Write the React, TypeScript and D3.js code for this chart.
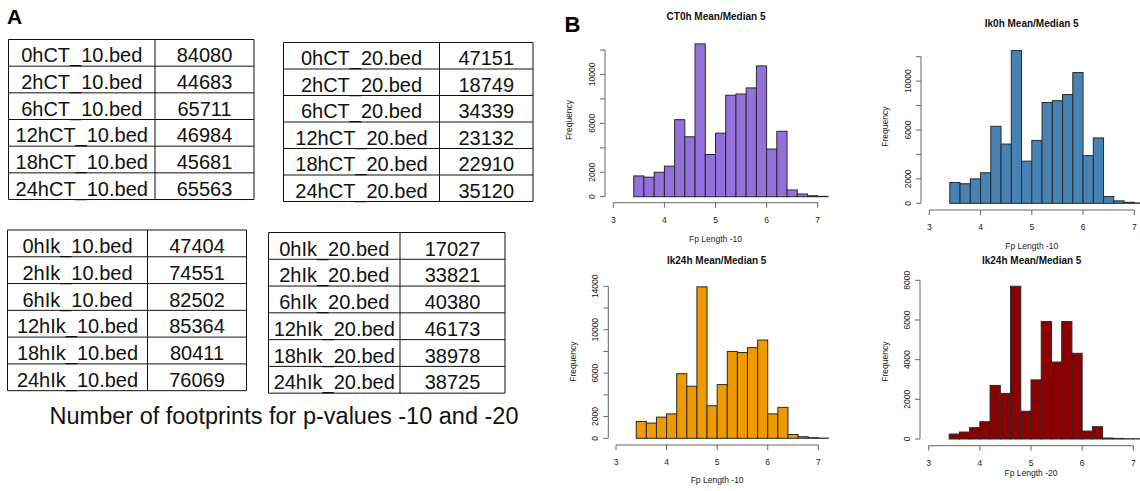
import React, { useEffect } from "react";
import * as d3 from "d3";

// ---------- Table data ----------
const ct10Names = ["0hCT_10.bed", "2hCT_10.bed", "6hCT_10.bed", "12hCT_10.bed", "18hCT_10.bed", "24hCT_10.bed"];
const ct10Counts = [84080, 44683, 65711, 46984, 45681, 65563];
const ct20Names = ["0hCT_20.bed", "2hCT_20.bed", "6hCT_20.bed", "12hCT_20.bed", "18hCT_20.bed", "24hCT_20.bed"];
const ct20Counts = [47151, 18749, 34339, 23132, 22910, 35120];
const ik10Names = ["0hIk_10.bed", "2hIk_10.bed", "6hIk_10.bed", "12hIk_10.bed", "18hIk_10.bed", "24hIk_10.bed"];
const ik10Counts = [47404, 74551, 82502, 85364, 80411, 76069];
const ik20Names = ["0hIk_20.bed", "2hIk_20.bed", "6hIk_20.bed", "12hIk_20.bed", "18hIk_20.bed", "24hIk_20.bed"];
const ik20Counts = [17027, 33821, 40380, 46173, 38978, 38725];
const captionText = "Number of footprints for p-values -10 and -20";

// ---------- Histogram data ----------
const binStarts = [3.4, 3.6, 3.8, 4.0, 4.2, 4.4, 4.6, 4.8, 5.0, 5.2, 5.4, 5.6, 5.8, 6.0, 6.2, 6.4, 6.6, 6.8, 7.0];
const binWidth = 0.2;
const ct0hFreq = [1700, 1600, 2000, 2500, 6300, 4900, 12500, 3450, 5200, 8300, 8400, 8900, 10700, 3900, 5350, 550, 220, 80, 30];
const ik0hFreq = [1700, 1600, 2000, 2500, 6300, 4850, 12500, 3450, 5150, 8250, 8400, 8900, 10700, 3900, 5350, 550, 200, 80, 30];
const ik24h10Freq = [1550, 1400, 1950, 2250, 5950, 4800, 13950, 3000, 4950, 8000, 7900, 8350, 9050, 2250, 2850, 350, 150, 60, 20];
const ik24h20Freq = [250, 350, 570, 870, 2700, 2300, 7700, 1400, 2980, 5920, 3880, 5920, 4320, 400, 620, 50, 30, 15, 10];

const xTicks = [3, 4, 5, 6, 7];
const yTicks12k = [0, 2000, 4000, 6000, 8000, 10000, 12000];
const yLabels12k = [0, 2000, 6000, 10000];
const yTicks14k = [0, 2000, 4000, 6000, 8000, 10000, 12000, 14000];
const yLabels14k = [0, 2000, 6000, 10000, 14000];
const yTicks8k = [0, 2000, 4000, 6000, 8000];
const yLabels8k = [0, 2000, 4000, 6000, 8000];

const FONT = "'Liberation Sans', Arial, Helvetica, sans-serif";

type TableSpec = {
  names: string[];
  counts: number[];
  x0: number;
  x1: number;
  xDiv: number;
  top: number;
  rowH: number;
};

const tables: TableSpec[] = [
  { names: ct10Names, counts: ct10Counts, x0: 8.5, x1: 254, xDiv: 155, top: 39.5, rowH: 26.67 },
  { names: ct20Names, counts: ct20Counts, x0: 283.5, x1: 533, xDiv: 439.5, top: 42.5, rowH: 26.5 },
  { names: ik10Names, counts: ik10Counts, x0: 7.5, x1: 246.5, xDiv: 147.5, top: 230, rowH: 26.78 },
  { names: ik20Names, counts: ik20Counts, x0: 268.5, x1: 505, xDiv: 400, top: 232.5, rowH: 26.78 },
];

function Table({ t }: { t: TableSpec }) {
  const n = t.names.length;
  const rows = d3.range(n + 1);
  const bottom = t.top + n * t.rowH;
  return (
    <g>
      {rows.map((i) => (
        <line key={"h" + i} x1={t.x0} x2={t.x1} y1={t.top + i * t.rowH} y2={t.top + i * t.rowH} stroke="#111" strokeWidth={1} />
      ))}
      <line x1={t.x0} x2={t.x0} y1={t.top} y2={bottom} stroke="#111" strokeWidth={1} />
      <line x1={t.x1} x2={t.x1} y1={t.top} y2={bottom} stroke="#111" strokeWidth={1} />
      <line x1={t.xDiv} x2={t.xDiv} y1={t.top} y2={bottom} stroke="#111" strokeWidth={1} />
      {t.names.map((name, i) => (
        <g key={name}>
          <text x={(t.x0 + t.xDiv) / 2} y={t.top + i * t.rowH + t.rowH * 0.86} textAnchor="middle" fontSize={20} fontFamily={FONT} fill="#111">
            {name}
          </text>
          <text x={(t.xDiv + t.x1) / 2} y={t.top + i * t.rowH + t.rowH * 0.86} textAnchor="middle" fontSize={20} fontFamily={FONT} fill="#111">
            {t.counts[i]}
          </text>
        </g>
      ))}
    </g>
  );
}

type HistSpec = {
  title: string;
  xlabel: string;
  freq: number[];
  color: string;
  yMax: number;
  yTicks: number[];
  yLabels: number[];
  axisX: number;
  y0: number;
  yTop: number;
  xLeft: number;
  xRight: number;
  xAxisY: number;
  titleX: number;
  titleY: number;
  xlabelY: number;
  ylabelX: number;
  ylabelY: number;
};

const hists: HistSpec[] = [
  {
    title: "CT0h Mean/Median 5", xlabel: "Fp Length -10", freq: ct0hFreq, color: "#9370DB",
    yMax: 12000, yTicks: yTicks12k, yLabels: yLabels12k,
    axisX: 605, y0: 196.7, yTop: 50, xLeft: 613.3, xRight: 817.7, xAxisY: 202.7,
    titleX: 716, titleY: 19.5, xlabelY: 242, ylabelX: 569, ylabelY: 120,
  },
  {
    title: "Ik0h Mean/Median 5", xlabel: "Fp Length -10", freq: ik0hFreq, color: "#4682B4",
    yMax: 12000, yTicks: yTicks12k, yLabels: yLabels12k,
    axisX: 921, y0: 203.3, yTop: 56.7, xLeft: 929.3, xRight: 1134.3, xAxisY: 210,
    titleX: 1031.7, titleY: 26.5, xlabelY: 248.5, ylabelX: 885, ylabelY: 126.7,
  },
  {
    title: "Ik24h Mean/Median 5", xlabel: "Fp Length -10", freq: ik24h10Freq, color: "#EE9A00",
    yMax: 14000, yTicks: yTicks14k, yLabels: yLabels14k,
    axisX: 608.3, y0: 438.3, yTop: 286.3, xLeft: 616, xRight: 818.3, xAxisY: 445,
    titleX: 716.7, titleY: 263.5, xlabelY: 483, ylabelX: 572.7, ylabelY: 361.7,
  },
  {
    title: "Ik24h Mean/Median 5", xlabel: "Fp Length -20", freq: ik24h20Freq, color: "#8B0000",
    yMax: 8000, yTicks: yTicks8k, yLabels: yLabels8k,
    axisX: 920, y0: 439, yTop: 280.3, xLeft: 928.7, xRight: 1133.3, xAxisY: 445.7,
    titleX: 1031.7, titleY: 263.5, xlabelY: 475.5, ylabelX: 885, ylabelY: 361.7,
  },
];

function Histogram({ h }: { h: HistSpec }) {
  const x = d3.scaleLinear().domain([3, 7]).range([h.xLeft, h.xRight]);
  const y = d3.scaleLinear().domain([0, h.yMax]).range([h.y0, h.yTop]);
  const axisColor = "#666";
  const textColor = "#222";
  return (
    <g>
      <text x={h.titleX} y={h.titleY} textAnchor="middle" fontSize={10} fontWeight="bold" fontFamily={FONT} fill="#111">
        {h.title}
      </text>
      {binStarts.map((b, i) => (
        <rect
          key={b}
          x={x(b)}
          y={y(h.freq[i])}
          width={x(b + binWidth) - x(b)}
          height={y(0) - y(h.freq[i])}
          fill={h.color}
          stroke="#2a2a2a"
          strokeWidth={1}
        />
      ))}
      <line x1={h.axisX} x2={h.axisX} y1={y(0)} y2={y(h.yMax)} stroke={axisColor} strokeWidth={1} />
      {h.yTicks.map((t) => (
        <line key={"yt" + t} x1={h.axisX - 5} x2={h.axisX} y1={y(t)} y2={y(t)} stroke={axisColor} strokeWidth={1} />
      ))}
      {h.yLabels.map((t) => (
        <text
          key={"yl" + t}
          transform={`translate(${h.axisX - 10},${y(t)}) rotate(-90)`}
          textAnchor="middle"
          fontSize={8.5}
          fontFamily={FONT}
          fill={textColor}
        >
          {t}
        </text>
      ))}
      <line x1={x(3)} x2={x(7)} y1={h.xAxisY} y2={h.xAxisY} stroke={axisColor} strokeWidth={1} />
      {xTicks.map((t) => (
        <g key={"xt" + t}>
          <line x1={x(t)} x2={x(t)} y1={h.xAxisY} y2={h.xAxisY + 5} stroke={axisColor} strokeWidth={1} />
          <text x={x(t)} y={h.xAxisY + 20} textAnchor="middle" fontSize={8.5} fontFamily={FONT} fill={textColor}>
            {t}
          </text>
        </g>
      ))}
      <text x={(h.xLeft + h.xRight) / 2} y={h.xlabelY} textAnchor="middle" fontSize={8.5} fontFamily={FONT} fill={textColor}>
        {h.xlabel}
      </text>
      <text
        transform={`translate(${h.ylabelX + 3},${h.ylabelY}) rotate(-90)`}
        textAnchor="middle"
        fontSize={8.5}
        fontFamily={FONT}
        fill={textColor}
      >
        Frequency
      </text>
    </g>
  );
}

export default function App() {
  useEffect(() => {
    document.body.style.margin = "0";
  }, []);
  return (
    <svg width={1140} height={491} style={{ position: "absolute", left: 0, top: 0, background: "#fff" }}>
      <rect x={0} y={0} width={1140} height={491} fill="#fff" />
      <text x={7} y={24} fontSize={21} fontWeight="bold" fontFamily={FONT} fill="#000">A</text>
      <text x={564.5} y={31.5} fontSize={22} fontWeight="bold" fontFamily={FONT} fill="#000">B</text>
      {tables.map((t, i) => (
        <Table key={i} t={t} />
      ))}
      <text x={284} y={424.3} textAnchor="middle" fontSize={23.5} fontFamily={FONT} fill="#111">
        {captionText}
      </text>
      {hists.map((h, i) => (
        <Histogram key={i} h={h} />
      ))}
    </svg>
  );
}
